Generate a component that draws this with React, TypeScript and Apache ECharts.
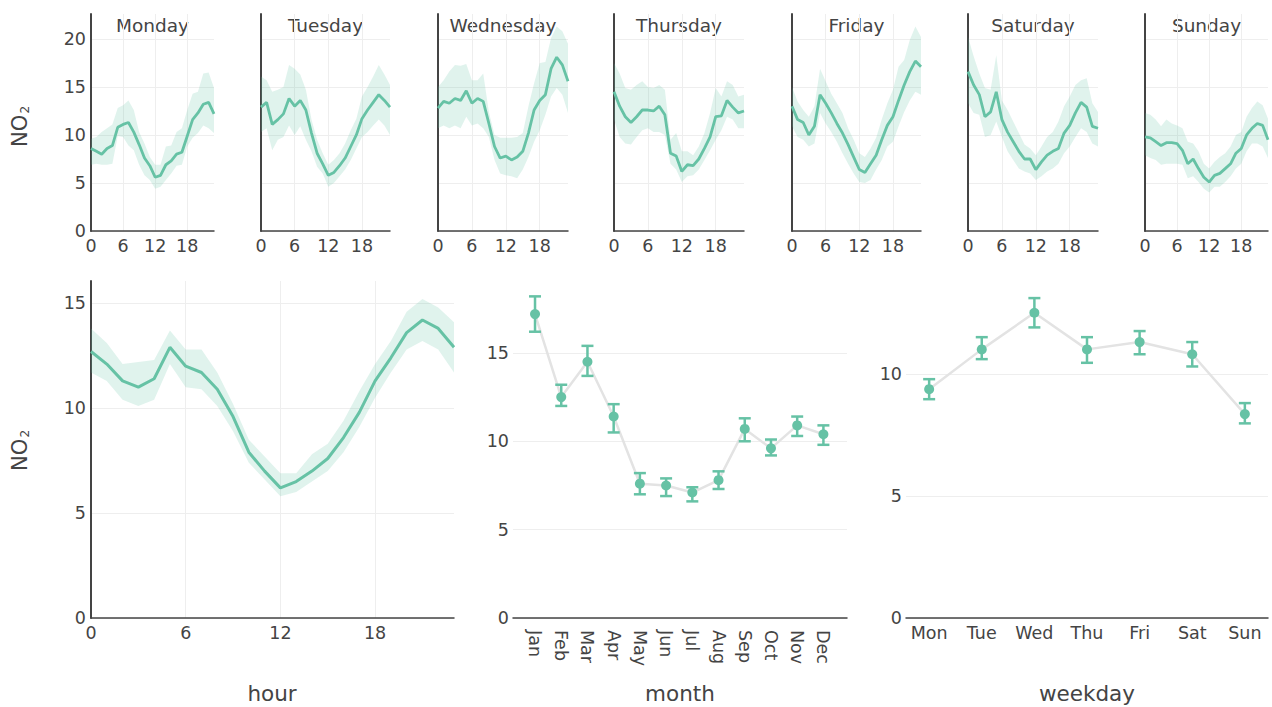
import React, { useEffect, useRef } from "react";
import * as echarts from "echarts";

// ---------- data ----------
const HOURS = [0, 1, 2, 3, 4, 5, 6, 7, 8, 9, 10, 11, 12, 13, 14, 15, 16, 17, 18, 19, 20, 21, 22, 23];
const DAY_NAMES = ["Monday", "Tuesday", "Wednesday", "Thursday", "Friday", "Saturday", "Sunday"];

const MON_MEAN = [8.6, 8.3, 8.0, 8.6, 8.9, 10.8, 11.1, 11.3, 10.3, 9.0, 7.6, 6.8, 5.6, 5.8, 6.9, 7.3, 8.0, 8.2, 9.9, 11.6, 12.3, 13.2, 13.4, 12.2];
const MON_HI = [9.6, 9.8, 10.3, 10.7, 11.1, 12.8, 13.1, 13.6, 12.6, 10.3, 9.1, 7.7, 6.9, 6.9, 8.8, 8.9, 10.3, 10.7, 12.6, 14.3, 14.5, 16.4, 16.5, 14.9];
const MON_LO = [6.9, 7.0, 6.9, 6.9, 7.0, 9.9, 9.8, 8.9, 8.4, 6.9, 5.8, 5.3, 4.4, 4.6, 5.3, 6.0, 6.8, 6.9, 8.8, 9.7, 10.2, 11.0, 10.7, 10.2];

const TUE_MEAN = [12.9, 13.4, 11.1, 11.6, 12.2, 13.8, 13.0, 13.6, 12.6, 10.2, 8.1, 7.0, 5.8, 6.1, 6.8, 7.6, 8.8, 10.0, 11.7, 12.6, 13.4, 14.2, 13.6, 12.9];
const TUE_HI = [16.1, 15.7, 14.5, 14.7, 15.0, 17.3, 16.9, 16.3, 14.7, 11.6, 9.5, 8.1, 6.9, 7.4, 8.1, 9.1, 10.5, 11.7, 14.0, 15.0, 16.1, 17.3, 16.3, 15.2];
const TUE_LO = [10.3, 10.7, 8.4, 9.5, 9.8, 11.0, 10.0, 10.9, 9.5, 8.3, 6.7, 6.0, 4.6, 5.0, 5.7, 6.4, 7.4, 8.6, 9.8, 10.3, 11.0, 11.6, 11.0, 10.0];

const WED_MEAN = [12.8, 13.5, 13.3, 13.8, 13.6, 14.6, 13.3, 13.8, 13.5, 11.2, 8.8, 7.6, 7.8, 7.4, 7.7, 8.3, 10.2, 12.6, 13.6, 14.2, 16.9, 18.1, 17.3, 15.6];
const WED_HI = [15.0, 15.7, 16.6, 17.3, 17.2, 17.4, 15.7, 15.7, 16.4, 12.4, 10.0, 9.7, 9.7, 9.7, 9.8, 10.2, 13.0, 15.4, 17.5, 17.6, 20.1, 21.3, 20.8, 19.5];
const WED_LO = [10.7, 11.0, 10.7, 11.0, 10.7, 11.9, 11.0, 11.2, 10.7, 9.8, 7.4, 6.0, 5.8, 5.7, 5.5, 6.4, 7.7, 9.3, 10.5, 12.1, 14.0, 14.9, 14.2, 12.3];

const THU_MEAN = [14.5, 13.0, 11.9, 11.3, 11.9, 12.6, 12.6, 12.5, 13.0, 12.1, 8.1, 7.8, 6.2, 6.9, 6.8, 7.5, 8.6, 9.8, 11.9, 12.0, 13.6, 12.9, 12.3, 12.5];
const THU_HI = [17.5, 16.4, 14.9, 14.7, 15.2, 15.6, 15.0, 14.9, 15.2, 14.7, 9.5, 10.2, 8.3, 8.3, 7.9, 8.8, 10.2, 12.3, 14.9, 14.0, 15.6, 15.2, 14.0, 14.2];
const THU_LO = [11.6, 9.8, 9.1, 9.0, 9.8, 10.5, 10.7, 10.3, 10.3, 10.0, 7.0, 6.4, 5.1, 5.7, 5.8, 6.4, 7.4, 8.4, 9.5, 10.5, 11.9, 11.6, 10.7, 10.7];

const FRI_MEAN = [13.0, 11.6, 11.3, 10.0, 10.9, 14.2, 13.3, 12.3, 11.2, 10.2, 9.0, 7.7, 6.4, 6.1, 7.0, 7.9, 9.5, 11.0, 11.9, 13.6, 15.2, 16.6, 17.7, 17.1];
const FRI_HI = [15.0, 13.5, 12.6, 11.9, 13.0, 16.9, 15.6, 14.3, 13.3, 12.3, 10.7, 9.5, 8.1, 7.7, 8.6, 9.7, 11.6, 13.3, 14.7, 17.1, 17.8, 19.9, 21.3, 20.2];
const FRI_LO = [10.9, 9.8, 9.5, 8.8, 9.1, 12.3, 11.2, 10.3, 9.3, 8.1, 7.0, 6.0, 5.1, 5.0, 5.3, 6.4, 7.4, 8.8, 9.3, 10.9, 12.4, 13.6, 14.5, 14.2];

const SAT_MEAN = [16.6, 15.2, 14.2, 11.9, 12.4, 14.5, 11.6, 10.3, 9.3, 8.3, 7.5, 7.5, 6.4, 7.2, 7.9, 8.3, 8.6, 10.2, 11.0, 12.3, 13.4, 12.9, 10.9, 10.7];
const SAT_HI = [20.2, 18.2, 16.4, 14.9, 14.7, 18.3, 13.6, 12.6, 11.4, 10.2, 9.0, 8.6, 7.9, 8.8, 9.8, 10.3, 11.4, 13.0, 14.0, 15.2, 15.7, 15.9, 13.3, 12.4];
const SAT_LO = [13.3, 12.3, 12.1, 9.8, 10.0, 11.4, 9.8, 8.3, 7.4, 6.5, 6.2, 6.0, 5.3, 5.7, 6.2, 6.5, 7.0, 8.1, 8.8, 9.8, 10.7, 10.3, 9.1, 8.8];

const SUN_MEAN = [9.8, 9.7, 9.3, 8.9, 9.2, 9.2, 9.1, 8.4, 7.0, 7.5, 6.5, 5.6, 5.1, 5.8, 6.0, 6.5, 7.0, 8.1, 8.6, 10.0, 10.7, 11.2, 11.0, 9.5];
const SUN_HI = [12.3, 12.1, 11.6, 10.9, 11.6, 11.2, 11.0, 10.7, 9.3, 9.1, 8.3, 7.0, 6.5, 7.2, 7.7, 8.1, 8.8, 10.0, 10.3, 11.9, 12.8, 13.5, 13.1, 11.7];
const SUN_LO = [7.9, 7.6, 7.4, 6.9, 7.0, 7.0, 7.0, 6.9, 5.5, 5.7, 5.1, 4.4, 4.0, 4.6, 4.6, 5.1, 5.7, 6.5, 7.0, 8.3, 9.1, 9.1, 8.8, 7.6];

const HOUR_MEAN = [12.7, 12.1, 11.3, 11.0, 11.4, 12.9, 12.0, 11.7, 10.9, 9.6, 7.9, 7.0, 6.2, 6.5, 7.0, 7.6, 8.6, 9.8, 11.3, 12.4, 13.6, 14.2, 13.8, 12.9];
const HOUR_HI = [13.8, 13.1, 12.1, 12.2, 12.3, 13.7, 12.8, 12.8, 11.7, 10.2, 8.5, 7.7, 6.9, 6.9, 7.8, 8.3, 9.4, 10.8, 12.1, 13.2, 14.6, 15.2, 14.8, 14.1];
const HOUR_LO = [11.7, 11.3, 10.4, 10.1, 10.4, 12.1, 11.0, 10.9, 10.1, 8.9, 7.4, 6.6, 5.8, 6.0, 6.5, 7.0, 7.9, 9.1, 10.5, 11.7, 12.8, 13.2, 12.8, 11.7];

const MONTHS = ["Jan", "Feb", "Mar", "Apr", "May", "Jun", "Jul", "Aug", "Sep", "Oct", "Nov", "Dec"];
const MONTH_MEAN = [17.2, 12.5, 14.5, 11.4, 7.6, 7.5, 7.1, 7.8, 10.7, 9.6, 10.9, 10.4];
const MONTH_HI = [18.2, 13.2, 15.4, 12.1, 8.2, 7.9, 7.4, 8.3, 11.3, 10.1, 11.4, 10.9];
const MONTH_LO = [16.2, 12.0, 13.7, 10.5, 7.0, 6.9, 6.6, 7.3, 10.0, 9.2, 10.3, 9.8];

const WEEKDAYS = ["Mon", "Tue", "Wed", "Thu", "Fri", "Sat", "Sun"];
const WEEKDAY_MEAN = [9.37, 11.0, 12.5, 11.0, 11.3, 10.8, 8.35];
const WEEKDAY_HI = [9.78, 11.5, 13.1, 11.5, 11.75, 11.3, 8.8];
const WEEKDAY_LO = [8.96, 10.6, 11.9, 10.45, 10.8, 10.3, 7.97];

const HOUR_TICKS = [0, 6, 12, 18];
const TOP_Y_TICKS = [0, 5, 10, 15, 20];
const HOUR_Y_TICKS = [0, 5, 10, 15];
const MONTH_Y_TICKS = [0, 5, 10, 15];
const WEEKDAY_Y_TICKS = [0, 5, 10];

const DAY_MEANS = [MON_MEAN, TUE_MEAN, WED_MEAN, THU_MEAN, FRI_MEAN, SAT_MEAN, SUN_MEAN];
const DAY_HIS = [MON_HI, TUE_HI, WED_HI, THU_HI, FRI_HI, SAT_HI, SUN_HI];
const DAY_LOS = [MON_LO, TUE_LO, WED_LO, THU_LO, FRI_LO, SAT_LO, SUN_LO];

// ---------- layout / style ----------
const FONT = "'DejaVu Sans', Verdana, sans-serif";
const TXT = "#444";
const GREEN = "#66c2a5";
const BAND = "rgba(102,194,165,0.2)";
const GRIDC = "#eeeeee";
const TICK_FS = 17.5;

const TOP_LEFTS = [91, 261, 438, 614, 792, 968, 1145];
const TOP_WIDTHS = [123, 129, 130, 130, 129, 130, 123];
const TOP_TOP = 14;
const TOP_H = 217;
const BOT_TOP = 281;
const BOT_H = 337;

function App() {
  const ref = useRef<HTMLDivElement>(null);

  useEffect(() => {
    if (!ref.current) return;
    const chart = echarts.init(ref.current, null, { renderer: "svg" });

    const grids: any[] = [];
    const xAxes: any[] = [];
    const yAxes: any[] = [];
    const series: any[] = [];
    const graphics: any[] = [];

    const labelStyle = { color: TXT, fontFamily: FONT, fontSize: TICK_FS };

    const hourlyPanel = (
      gi: number,
      left: number,
      top: number,
      width: number,
      height: number,
      ymax: number,
      yticks: number[],
      showY: boolean,
      mean: number[],
      lo: number[],
      hi: number[],
      lineW: number
    ) => {
      grids.push({ left, top, width, height, outerBoundsMode: "none", containLabel: false });
      xAxes.push({
        type: "value",
        gridIndex: gi,
        min: 0,
        max: 23,
        axisLine: { show: true, onZero: false, lineStyle: { color: TXT, width: 1.5 } },
        axisTick: { show: false, customValues: HOUR_TICKS },
        axisLabel: { ...labelStyle, customValues: HOUR_TICKS, margin: 6 },
        splitLine: { show: true, lineStyle: { color: GRIDC, width: 1 } },
      });
      yAxes.push({
        type: "value",
        gridIndex: gi,
        min: 0,
        max: ymax,
        axisLine: { show: true, onZero: false, lineStyle: { color: TXT, width: 2 } },
        axisTick: { show: false, customValues: yticks },
        axisLabel: { ...labelStyle, show: showY, customValues: yticks, margin: 5 },
        splitLine: { show: true, lineStyle: { color: GRIDC, width: 1 } },
      });
      // confidence band drawn as one polygon through the axis scales
      series.push({
        type: "custom",
        xAxisIndex: gi,
        yAxisIndex: gi,
        data: HOURS.map((h, k) => [h, lo[k], hi[k]]),
        encode: { x: 0, y: [1, 2] },
        silent: true,
        z: 1,
        renderItem: (params: any, api: any) => {
          if (params.dataIndex !== 0) return null;
          const upper = HOURS.map((h, k) => api.coord([h, hi[k]]));
          const lower = HOURS.map((h, k) => api.coord([h, lo[k]])).reverse();
          return {
            type: "polygon",
            shape: { points: upper.concat(lower) },
            style: { fill: BAND, stroke: "none" },
          };
        },
      });
      series.push({
        type: "line",
        xAxisIndex: gi,
        yAxisIndex: gi,
        data: HOURS.map((h, k) => [h, mean[k]]),
        symbol: "none",
        lineStyle: { color: GREEN, width: lineW },
        z: 3,
      });
    };

    // top row: one panel per weekday
    for (let i = 0; i < 7; i++) {
      hourlyPanel(i, TOP_LEFTS[i], TOP_TOP, TOP_WIDTHS[i], TOP_H, 22.6, TOP_Y_TICKS, i === 0, DAY_MEANS[i], DAY_LOS[i], DAY_HIS[i], 2.8);
      graphics.push({
        type: "text",
        x: TOP_LEFTS[i] + TOP_WIDTHS[i] / 2,
        y: 25,
        style: { text: DAY_NAMES[i], fill: TXT, font: `18.5px ${FONT}`, textAlign: "center", textVerticalAlign: "middle" },
      });
    }

    // bottom-left: hourly profile
    hourlyPanel(7, 91, BOT_TOP, 363, BOT_H, 16.06, HOUR_Y_TICKS, true, HOUR_MEAN, HOUR_LO, HOUR_HI, 3);

    // error-bar panels
    const errPanel = (
      gi: number,
      left: number,
      width: number,
      xmin: number,
      xmax: number,
      ymax: number,
      yticks: number[],
      cats: string[],
      mean: number[],
      lo: number[],
      hi: number[],
      rotate: number,
      margin: number
    ) => {
      const idx = cats.map((_, k) => k);
      grids.push({ left, top: BOT_TOP, width, height: BOT_H, outerBoundsMode: "none", containLabel: false });
      xAxes.push({
        type: "value",
        gridIndex: gi,
        min: xmin,
        max: xmax,
        axisLine: { show: true, onZero: false, lineStyle: { color: TXT, width: 1.5 } },
        axisTick: { show: false, customValues: idx },
        axisLabel: {
          ...labelStyle,
          customValues: idx,
          rotate,
          margin,
          formatter: (v: number) => cats[Math.round(v)] ?? "",
        },
        splitLine: { show: false },
      });
      yAxes.push({
        type: "value",
        gridIndex: gi,
        min: 0,
        max: ymax,
        axisLine: { show: false, onZero: false },
        axisTick: { show: false, customValues: yticks },
        axisLabel: { ...labelStyle, customValues: yticks, margin: 4 },
        splitLine: { show: true, lineStyle: { color: GRIDC, width: 1 } },
      });
      series.push({
        type: "line",
        xAxisIndex: gi,
        yAxisIndex: gi,
        data: idx.map((k) => [k, mean[k]]),
        symbol: "none",
        lineStyle: { color: "#e3e3e3", width: 2.5 },
        z: 1,
      });
      series.push({
        type: "custom",
        xAxisIndex: gi,
        yAxisIndex: gi,
        data: idx.map((k) => [k, lo[k], hi[k]]),
        encode: { x: 0, y: [1, 2] },
        z: 2,
        renderItem: (params: any, api: any) => {
          const x = api.value(0);
          const pLo = api.coord([x, api.value(1)]);
          const pHi = api.coord([x, api.value(2)]);
          const hw = 6;
          const st = { stroke: GREEN, lineWidth: 2.5 };
          return {
            type: "group",
            children: [
              { type: "line", shape: { x1: pLo[0], y1: pLo[1], x2: pHi[0], y2: pHi[1] }, style: st },
              { type: "line", shape: { x1: pLo[0] - hw, y1: pLo[1], x2: pLo[0] + hw, y2: pLo[1] }, style: st },
              { type: "line", shape: { x1: pHi[0] - hw, y1: pHi[1], x2: pHi[0] + hw, y2: pHi[1] }, style: st },
            ],
          };
        },
      });
      series.push({
        type: "scatter",
        xAxisIndex: gi,
        yAxisIndex: gi,
        data: idx.map((k) => [k, mean[k]]),
        symbol: "circle",
        symbolSize: 10,
        itemStyle: { color: GREEN, opacity: 1 },
        z: 3,
      });
    };

    errPanel(8, 513, 334, -0.84, 11.9, 19.07, MONTH_Y_TICKS, MONTHS, MONTH_MEAN, MONTH_LO, MONTH_HI, -90, 12);
    errPanel(9, 906, 362, -0.44, 6.44, 13.8, WEEKDAY_Y_TICKS, WEEKDAYS, WEEKDAY_MEAN, WEEKDAY_LO, WEEKDAY_HI, 0, 6);

    // axis titles
    const axisTitle = (text: string, x: number) => ({
      type: "text",
      x,
      y: 693,
      style: { text, fill: TXT, font: `21.5px ${FONT}`, textAlign: "center", textVerticalAlign: "middle" },
    });
    graphics.push(axisTitle("hour", 272));
    graphics.push(axisTitle("month", 680));
    graphics.push(axisTitle("weekday", 1087));

    // NO2 y titles (rotated, with subscript)
    const no2 = (yBottom: number) => ({
      type: "group",
      x: 20,
      y: yBottom,
      rotation: Math.PI / 2,
      children: [
        { type: "text", x: 0, y: 0, style: { text: "NO", fill: TXT, font: `21px ${FONT}`, textAlign: "left", textVerticalAlign: "middle" } },
        { type: "text", x: 33.5, y: 5, style: { text: "2", fill: TXT, font: `12px ${FONT}`, textAlign: "left", textVerticalAlign: "middle" } },
      ],
    });
    graphics.push(no2(147));
    graphics.push(no2(471));

    chart.setOption({
      animation: false,
      backgroundColor: "#ffffff",
      textStyle: { fontFamily: FONT },
      grid: grids,
      xAxis: xAxes,
      yAxis: yAxes,
      series,
      graphic: graphics,
    });

    return () => chart.dispose();
  }, []);

  return (
    <div
      ref={ref}
      style={{ position: "absolute", left: 0, top: 0, width: 1272, height: 707, background: "#fff" }}
    />
  );
}

export default App;
